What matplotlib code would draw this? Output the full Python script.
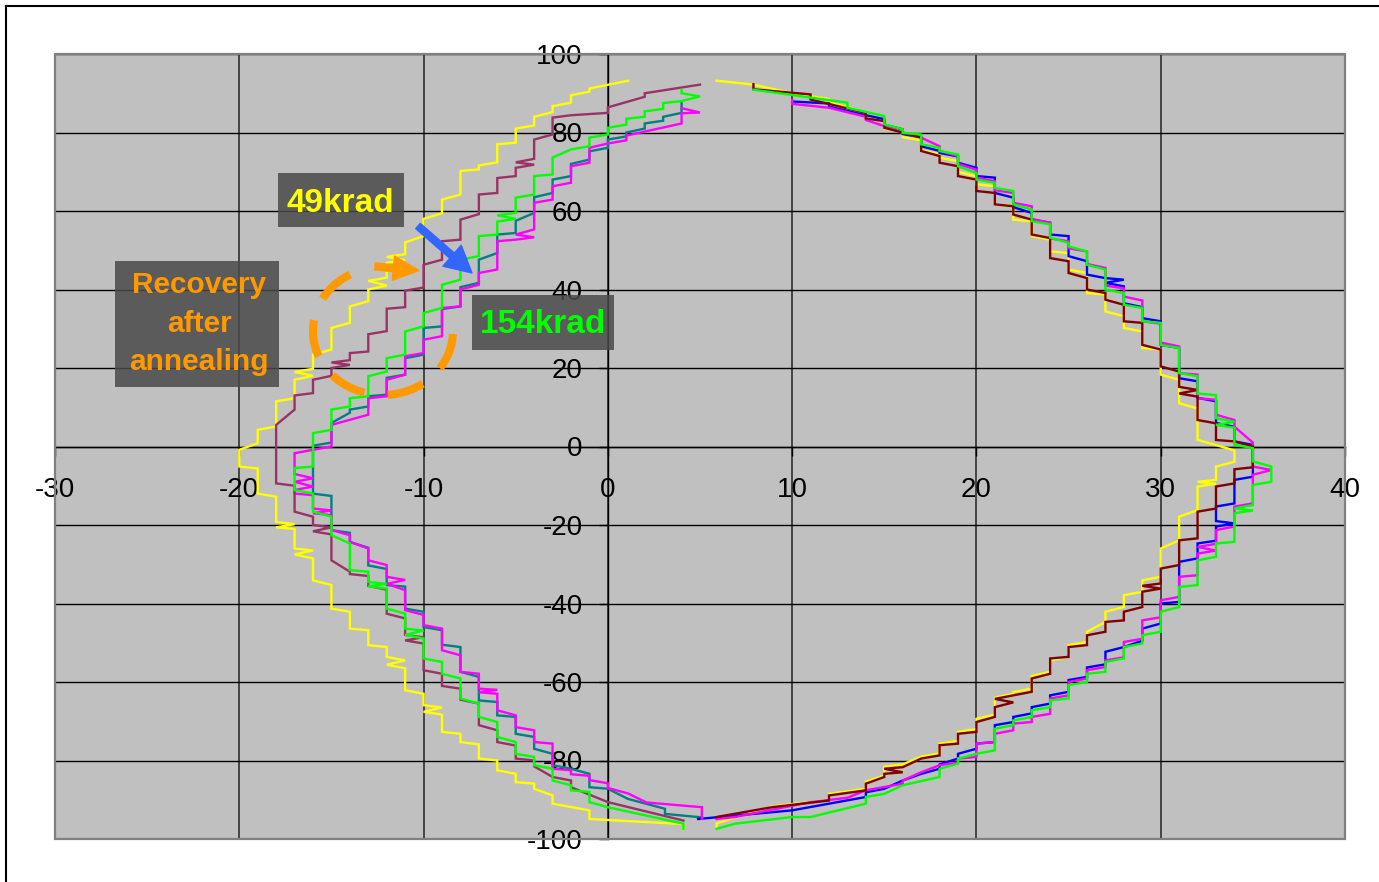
import numpy as np
import matplotlib
matplotlib.use("Agg")
import matplotlib.pyplot as plt
from matplotlib.patches import Rectangle, FancyArrowPatch
from matplotlib.lines import Line2D

plt.rcParams['font.family'] = ['Liberation Sans', 'DejaVu Sans']
plt.rcParams['axes.unicode_minus'] = False

# ---------------- data (vertices) ----------------
X_TICKS = [-30, -20, -10, 0, 10, 20, 30, 40]
Y_TICKS = [-100, -80, -60, -40, -20, 0, 20, 40, 60, 80, 100]

YELLOW_LEFT = [(1.1, 93.2), (-1, 91.2), (-1, 90.4), (-2, 89.5), (-2, 87.6), (-3, 86.7), (-3, 85.2),
               (-4, 84.0), (-4, 81.8), (-5, 81.0), (-5, 77.4), (-6, 77.0), (-6, 72.4), (-7, 71.6),
               (-7, 70.6), (-8, 70.2), (-8, 64.2), (-9, 62.9), (-9, 59.4), (-10, 58.0), (-10, 53.6),
               (-11, 52.0), (-11, 49.0), (-12, 48.3), (-11, 47.5), (-12, 46.8), (-12, 43.0), (-13, 42.2),
               (-12, 41.0), (-13, 40.0), (-13, 37.0), (-14, 35.7), (-14, 31.5), (-15, 30.2), (-15, 24.7),
               (-16, 23.4), (-16, 19.8), (-17, 19.0), (-16, 18.0), (-17, 17.0), (-17, 12.3), (-18, 11.5),
               (-18, 5.1), (-19, 4.25), (-19, 0.85), (-20, -0.85), (-20, -5.1), (-19, -5.6), (-19, -12.0),
               (-18, -12.8), (-18, -19.2), (-17, -19.8), (-18, -20.6), (-17, -21.0), (-17, -26.0),
               (-16, -26.5), (-17, -27.5), (-16, -28.5), (-16, -34.1), (-15, -35.3), (-15, -41.3),
               (-14, -42.1), (-14, -46.4), (-13, -46.8), (-13, -50.6), (-12, -51.1), (-12, -53.6),
               (-11, -54.5), (-12, -55.6), (-11, -56.5), (-11, -62.1), (-10, -63.0), (-10, -65.9),
               (-9, -66.5), (-10, -67.6), (-9, -68.3), (-9, -72.7), (-8, -73.2), (-8, -75.3), (-7, -75.9),
               (-7, -79.5), (-6, -80.0), (-6, -82.5), (-5, -83.4), (-5, -85.5), (-4, -85.9), (-4, -87.2),
               (-3, -88.9), (-3, -91.0), (-1, -92.7), (-1, -94.9), (4.1, -96.2), (4.1, -97.4)]

MAROON_LEFT = [(5.0, 92.2), (2.0, 90.0), (2.0, 89.1), (0, 86.4), (0, 85.0), (-2, 84.4), (-3, 83.8),
               (-3, 79.5), (-4, 78.2), (-4, 73.3), (-5, 72.4), (-4, 71.8), (-5, 71.0), (-5, 68.9),
               (-6, 68.4), (-6, 64.6), (-7, 64.2), (-7, 59.2), (-8, 57.8), (-8, 52.7), (-9, 52.3),
               (-9, 47.6), (-10, 46.3), (-10, 40.5), (-11, 39.7), (-11, 35.5), (-12, 35.1), (-12, 29.4),
               (-13, 28.6), (-13, 24.2), (-14, 23.8), (-14, 22.0), (-15, 21.4), (-14, 20.8), (-15, 20.0),
               (-15, 18.0), (-16, 17.0), (-16, 13.6), (-17, 13.0), (-17, 9.4), (-18, 5.5), (-18, -9.4),
               (-17, -10.0), (-17, -16.6), (-16, -17.9), (-16, -20.0), (-15, -20.6), (-16, -21.6),
               (-15, -22.4), (-15, -29.0), (-14, -31.9), (-14, -32.5), (-13, -33.0), (-13, -35.5),
               (-12, -36.5), (-12, -42.6), (-11, -43.8), (-11, -48.0), (-10, -48.6), (-11, -49.4),
               (-10, -50.2), (-10, -57.0), (-9, -57.9), (-9, -61.0), (-8, -61.7), (-8, -64.5),
               (-7, -65.5), (-7, -71.0), (-6, -72.3), (-6, -75.3), (-5, -76.2), (-5, -79.5), (-4, -80.0),
               (-4, -81.5), (-3, -84.2), (-2, -85.1), (-2, -86.8), (0, -90.6), (4.1, -95.3)]

GREEN_LEFT = [(4.0, 90.9), (4.0, 90.0), (5.0, 89.2), (4.0, 88.0), (3.0, 87.5), (3.0, 86.0), (2.0, 85.4),
              (2.0, 84.0), (1.0, 83.5), (1.0, 82.0), (0, 81.2), (0, 79.5), (-1, 78.7), (-1, 76.5),
              (-2, 75.7), (-3, 73.6), (-3, 69.3), (-4, 68.9), (-4, 64.2), (-5, 63.4), (-5, 59.5),
              (-6, 58.9), (-5, 58.0), (-6, 57.3), (-6, 54.0), (-7, 53.6), (-7, 48.5), (-8, 47.6),
              (-8, 42.5), (-9, 41.2), (-9, 35.3), (-10, 34.0), (-10, 30.6), (-11, 29.3), (-11, 23.4),
              (-12, 22.5), (-12, 19.1), (-13, 17.9), (-13, 12.8), (-14, 12.3), (-14, 10.2), (-15, 9.4),
              (-15, 4.25), (-16, 3.4), (-16, -5.1), (-17, -5.5), (-17, -11.1), (-16, -12.0), (-16, -16.6),
              (-15, -17.9), (-15, -22.6), (-14, -24.7), (-14, -31.5), (-13, -31.9), (-13, -34.5),
              (-12, -35.0), (-13, -35.6), (-12, -36.2), (-12, -41.3), (-11, -42.6), (-11, -46.4),
              (-10, -46.9), (-11, -48.0), (-10, -48.9), (-10, -54.0), (-9, -54.9), (-9, -57.9),
              (-8, -59.1), (-8, -64.2), (-7, -65.5), (-7, -68.9), (-6, -70.2), (-6, -74.0), (-5, -75.3),
              (-5, -78.3), (-4, -79.1), (-4, -81.2), (-3, -82.1), (-3, -85.1), (-2, -86.3), (-2, -87.6),
              (-1, -88.0), (-1, -90.6), (0, -91.9), (4.1, -96.1), (4.1, -97.4)]

TEAL_LEFT = [(4.0, 87.6), (4.0, 85.0), (3.0, 84.0), (3.0, 83.0), (2.0, 82.3), (2.0, 81.0), (1.0, 80.0),
             (1.0, 79.0), (0, 78.2), (0, 76.1), (-1, 75.2), (-1, 73.1), (-2, 72.0), (-2, 68.9), (-3, 68.0),
             (-3, 64.6), (-4, 63.5), (-4, 59.5), (-5, 57.5), (-5, 54.4), (-6, 54.0), (-6, 49.3), (-7, 47.6),
             (-7, 41.7), (-8, 40.6), (-8, 35.7), (-9, 35.0), (-9, 30.6), (-10, 30.2), (-10, 23.4),
             (-11, 22.5), (-11, 18.3), (-12, 17.5), (-12, 13.2), (-13, 12.8), (-13, 10.2), (-14, 9.4),
             (-14, 8.6), (-15, 6.0), (-15, 1.0), (-16, 0.2), (-16, -12.0), (-15, -12.6), (-15, -21.3),
             (-14, -22.0), (-14, -24.3), (-13, -25.8), (-13, -30.3), (-12, -31.2), (-12, -35.3),
             (-11, -35.7), (-11, -41.3), (-10, -42.1), (-10, -46.0), (-9, -46.8), (-9, -50.5),
             (-8, -51.1), (-8, -57.4), (-7, -58.7), (-7, -64.7), (-6, -65.1), (-6, -68.5), (-5, -68.9),
             (-5, -73.2), (-4, -74.0), (-4, -77.0), (-3, -78.3), (-3, -81.2), (-2, -82.1), (-1, -83.4),
             (-1, -86.8), (0, -87.2), (1.1, -89.8), (3.1, -92.3), (3.1, -93.6), (5.1, -94.5)]

MAGENTA_LEFT = [(4.0, 86.2), (5.0, 85.1), (4.0, 84.9), (4.0, 82.3), (1.0, 79.2), (1.0, 78.0), (0, 77.2),
                (-1, 76.1), (-1, 72.3), (-2, 71.4), (-2, 67.2), (-3, 66.3), (-3, 62.9), (-4, 62.1),
                (-4, 55.3), (-5, 54.0), (-4, 53.3), (-5, 52.7), (-6, 52.3), (-6, 45.1), (-7, 44.2),
                (-7, 41.2), (-8, 40.0), (-8, 35.7), (-9, 35.3), (-9, 28.1), (-10, 27.2), (-10, 23.8),
                (-11, 23.0), (-11, 18.3), (-12, 17.0), (-12, 12.8), (-13, 12.3), (-13, 8.1), (-14, 6.8),
                (-15, 5.5), (-15, 0.0), (-17, -1.7), (-17, -7.0), (-16, -8.1), (-17, -9.0), (-16, -10.2),
                (-17, -11.1), (-17, -12.0), (-16, -12.4), (-16, -15.8), (-15, -16.3), (-16, -17.0),
                (-15, -17.5), (-15, -21.3), (-14, -22.6), (-14, -24.3), (-13, -26.0), (-13, -29.0),
                (-12, -30.2), (-12, -33.2), (-11, -34.0), (-12, -35.0), (-11, -36.6), (-11, -41.7),
                (-10, -42.9), (-10, -45.5), (-9, -46.4), (-9, -51.9), (-8, -53.2), (-8, -57.4),
                (-7, -57.9), (-7, -61.7), (-6, -62.0), (-7, -62.6), (-6, -63.0), (-6, -67.2), (-5, -68.5),
                (-5, -71.5), (-4, -72.3), (-4, -75.3), (-3, -75.7), (-3, -82.1), (-2, -82.5), (-2, -83.5),
                (-1, -83.9), (-1, -85.0), (0, -85.8), (0, -87.0), (1.1, -88.4), (2.1, -90.7), (5.1, -91.9),
                (5.1, -94.9)]

YELLOW_RIGHT = [(5.9, 93.2), (7.9, 92.2), (10, 90.0), (12, 88.5), (12, 87.6), (13, 86.5), (14, 85.0),
                (14, 84.2), (15, 82.9), (15, 81.0), (16, 80.0), (16, 78.8), (17, 78.0), (17, 75.5),
                (18, 74.5), (18, 73.6), (19, 72.7), (19, 70.0), (20, 68.8), (20, 66.8), (21, 66.3),
                (21, 61.7), (22, 61.2), (22, 57.8), (23, 57.4), (23, 53.6), (24, 52.7), (24, 49.7),
                (25, 49.3), (25, 45.1), (26, 44.2), (26, 39.1), (27, 38.7), (27, 34.4), (28, 33.2),
                (28, 30.2), (29, 29.3), (29, 25.1), (30, 24.7), (30, 18.3), (31, 17.0), (31, 11.0),
                (32, 9.7), (32, 1.7), (34, -1.0), (34, -3.9), (33, -5.1), (33, -8.5), (32, -9.0),
                (33, -9.5), (32, -10.2), (32, -16.2), (31, -17.9), (31, -23.9), (30, -26.0), (30, -33.2),
                (29, -34.1), (29, -37.0), (28, -37.9), (28, -40.9), (27, -42.1), (27, -44.7), (26, -47.2),
                (26, -49.8), (25, -50.6), (25, -53.6), (24, -54.5), (24, -57.4), (23, -58.5), (23, -61.7),
                (22, -62.6), (22, -63.0), (21, -64.0), (21, -68.3), (20, -69.4), (20, -72.0), (19, -72.7),
                (19, -75.0), (18, -75.7), (18, -78.2), (17, -79.0), (16, -81.0), (15, -81.6), (15, -83.8),
                (14, -85.4), (14, -87.2), (12, -88.5), (12, -90.0), (8.9, -91.7), (5.9, -96.0), (5.9, -97.2)]

DARKRED_RIGHT = [(7.9, 92.3), (7.9, 91.0), (11, 89.7), (11, 88.4), (14, 85.0), (14, 83.6), (15, 82.9),
                 (15, 81.2), (17, 78.7), (17, 75.3), (18, 74.0), (18, 72.3), (19, 71.4), (19, 68.9),
                 (20, 68.0), (20, 65.1), (21, 64.6), (21, 61.7), (22, 61.2), (22, 59.1), (23, 57.8),
                 (23, 54.0), (24, 53.1), (24, 48.0), (25, 47.2), (25, 44.2), (26, 42.9), (26, 40.0),
                 (27, 39.1), (27, 37.4), (28, 36.1), (28, 31.9), (29, 31.5), (29, 25.9), (30, 24.7),
                 (30, 20.4), (31, 19.1), (31, 15.2), (32, 14.4), (31, 13.5), (32, 12.7), (32, 6.75),
                 (33, 5.9), (33, 1.66), (34, 1.3), (35, 0.0), (35, -5.3), (34, -5.8), (34, -9.4),
                 (33, -10.2), (33, -15.8), (32, -16.6), (32, -23.4), (31, -23.9), (31, -30.2), (30, -31.1),
                 (30, -34.9), (29, -35.5), (30, -36.2), (29, -37.0), (29, -40.9), (28, -42.1), (28, -44.3),
                 (27, -44.7), (27, -47.2), (26, -48.1), (26, -50.6), (25, -51.1), (25, -53.6), (24, -54.0),
                 (24, -57.9), (23, -59.1), (23, -62.5), (22, -63.4), (21, -64.3), (22, -65.2), (21, -66.4),
                 (21, -68.9), (20, -70.2), (20, -72.7), (19, -73.2), (19, -75.7), (18, -76.1), (18, -78.7),
                 (17, -79.5), (16, -81.7), (15, -82.1), (16, -83.0), (15, -83.4), (15, -84.2), (14, -85.9),
                 (14, -87.6), (12, -88.9), (12, -90.2), (8.9, -91.9), (5.9, -94.4)]

BLUE_RIGHT = [(10, 87.9), (12, 87.4), (12, 86.6), (14, 84.4), (15, 83.4), (15, 82.0), (16, 80.8),
              (16, 79.6), (17, 78.8), (17, 76.5), (18, 75.3), (18, 74.8), (19, 73.9), (19, 72.3),
              (20, 71.0), (20, 68.9), (21, 68.5), (21, 64.6), (22, 63.4), (22, 61.0), (23, 59.5),
              (23, 57.8), (24, 57.0), (24, 54.0), (25, 53.6), (25, 48.5), (26, 47.2), (26, 43.8),
              (27, 42.9), (28, 42.5), (27, 41.7), (28, 40.8), (28, 36.5), (29, 35.5), (29, 32.7),
              (30, 31.9), (30, 25.9), (31, 25.1), (31, 17.4), (32, 16.6), (32, 12.4), (33, 11.5),
              (33, 6.0), (34, 5.0), (34, 1.3), (35, 0.4), (35, -7.7), (34, -8.5), (34, -14.5),
              (33, -15.3), (33, -19.0), (34, -19.6), (33, -20.4), (33, -24.0), (32, -24.7), (32, -28.5),
              (31, -29.4), (31, -39.6), (30, -40.0), (30, -45.1), (29, -46.4), (29, -49.5), (28, -51.1),
              (27, -52.3), (27, -55.5), (26, -56.3), (26, -58.7), (25, -59.5), (25, -62.5), (24, -63.4),
              (24, -65.5), (23, -66.4), (23, -68.0), (22, -68.9), (22, -70.2), (21, -71.0), (21, -75.3),
              (20, -75.7), (20, -77.0), (19, -78.3), (19, -79.5), (18, -81.0), (18, -82.1), (17, -83.4),
              (16, -85.1), (15, -87.2), (14, -88.1), (14, -89.3), (10, -92.7), (4.9, -94.9)]

MAGENTA_RIGHT = [(10, 88.3), (10, 87.3), (12, 86.3), (14, 84.0), (14, 83.2), (15, 81.6), (16, 80.0),
                 (17, 78.7), (18, 76.5), (18, 75.3), (19, 74.0), (19, 72.0), (20, 70.5), (20, 68.5),
                 (21, 67.6), (21, 65.3), (22, 64.6), (22, 62.1), (23, 61.2), (23, 58.0), (24, 57.0),
                 (24, 53.0), (25, 52.3), (25, 50.5), (26, 49.7), (26, 46.5), (27, 45.5), (27, 41.0),
                 (28, 40.3), (28, 38.2), (29, 37.2), (29, 31.9), (30, 31.3), (30, 26.5), (31, 25.5),
                 (31, 18.7), (32, 18.3), (32, 12.3), (33, 11.9), (33, 8.1), (34, 6.75), (34, 5.05),
                 (35, 1.0), (35, -5.1), (36, -6.0), (35, -7.2), (35, -14.5), (34, -15.3), (34, -20.4),
                 (33, -21.3), (33, -24.8), (32, -25.6), (33, -26.5), (32, -27.3), (32, -32.8), (31, -33.2),
                 (31, -38.3), (30, -39.2), (30, -43.5), (29, -44.3), (29, -49.0), (28, -49.8), (28, -53.7),
                 (27, -54.5), (27, -56.2), (26, -57.0), (26, -59.1), (25, -60.0), (25, -63.4), (24, -64.2),
                 (24, -68.1), (23, -68.9), (23, -70.2), (22, -70.6), (22, -72.3), (21, -73.2), (21, -75.3),
                 (20, -75.7), (20, -79.1), (19, -79.5), (19, -80.5), (18, -81.2), (17, -83.0), (16, -85.1),
                 (16, -85.9), (14, -87.6), (13, -89.5), (11, -90.6), (6.9, -94.4), (5.9, -94.9)]

GREEN_RIGHT = [(7.9, 90.9), (13, 87.6), (13, 86.3), (15, 84.2), (15, 82.1), (16, 80.8), (16, 79.9),
               (17, 79.5), (17, 77.0), (18, 76.1), (18, 75.3), (19, 74.4), (19, 71.4), (20, 69.7),
               (20, 68.0), (21, 67.2), (21, 65.9), (22, 65.1), (22, 61.7), (23, 60.4), (23, 57.4),
               (24, 56.6), (24, 53.2), (25, 51.9), (25, 51.0), (26, 49.7), (26, 46.3), (27, 45.1),
               (27, 40.0), (28, 39.1), (28, 36.1), (29, 35.3), (29, 31.9), (30, 31.5), (30, 25.9),
               (31, 25.1), (31, 18.7), (32, 17.9), (32, 13.5), (33, 13.1), (33, 7.2), (34, 6.3),
               (33, 5.5), (34, 4.8), (34, 0.4), (35, -0.4), (35, -3.8), (36, -5.1), (36, -9.0),
               (35, -9.8), (35, -14.9), (34, -15.8), (35, -16.3), (34, -17.0), (34, -24.3), (33, -24.7),
               (33, -28.1), (32, -29.0), (32, -35.3), (31, -35.8), (31, -40.9), (30, -42.1), (30, -47.2),
               (29, -48.1), (29, -50.2), (28, -51.1), (28, -54.0), (27, -54.9), (27, -57.4), (26, -57.9),
               (26, -60.0), (25, -60.8), (25, -64.2), (24, -64.7), (24, -66.4), (23, -67.2), (23, -68.9),
               (22, -69.8), (22, -71.0), (21, -71.9), (21, -77.4), (20, -78.3), (19, -79.5), (19, -80.8),
               (18, -82.1), (18, -84.2), (16, -86.3), (15, -88.5), (14, -89.3), (14, -91.0), (11, -94.4),
               (10, -94.4), (6.9, -96.1), (5.9, -97.4)]

# (series, colour, drawing order)
SERIES = [
    (YELLOW_LEFT, '#FFFF00', 2.00), (YELLOW_RIGHT, '#FFFF00', 2.00),
    (TEAL_LEFT, '#008080', 2.05), (BLUE_RIGHT, '#0000FF', 2.05),
    (MAGENTA_LEFT, '#FF00FF', 2.10), (MAGENTA_RIGHT, '#FF00FF', 2.10),
    (MAROON_LEFT, '#993366', 2.15), (DARKRED_RIGHT, '#800000', 2.15),
    (GREEN_LEFT, '#00FF00', 2.20), (GREEN_RIGHT, '#00FF00', 2.20),
]

# ---------------- figure ----------------
W, H = 1379, 882
fig = plt.figure(figsize=(W / 100, H / 100), dpi=100)
fig.patch.set_facecolor('white')

PL, PT, PR, PB = 55, 54, 1345, 839
ax = fig.add_axes([PL / W, 1 - PB / H, (PR - PL) / W, (PB - PT) / H])
ax.set_facecolor('#C0C0C0')
ax.set_xlim(-30, 40)
ax.set_ylim(-100, 100)
ax.set_axisbelow(True)

for pts, col, z in SERIES:
    xs = [p[0] for p in pts]
    ys = [p[1] for p in pts]
    ax.plot(xs, ys, color=col, lw=1.7, zorder=z, solid_joinstyle='miter')

ax.set_xticks(X_TICKS)
ax.set_xticklabels([str(v) for v in X_TICKS])
ax.set_yticks(Y_TICKS)
ax.set_yticklabels([str(v) for v in Y_TICKS])

ax.xaxis.grid(True, color='#3a3a3a', lw=1.3)
ax.yaxis.grid(True, color='#000000', lw=1.0)

for s in ['top', 'right']:
    ax.spines[s].set_visible(False)
ax.spines['left'].set_position(('data', 0))
ax.spines['bottom'].set_position(('data', 0))
for s in ['left', 'bottom']:
    ax.spines[s].set_color('black')
    ax.spines[s].set_linewidth(1.0)
    ax.spines[s].set_zorder(1.5)

ax.tick_params(axis='y', direction='out', length=6.5, width=1, pad=11.5, labelsize=20, colors='black')
ax.tick_params(axis='x', direction='out', length=6.5, width=1, pad=15.5, labelsize=20, colors='black')

ax.add_patch(Rectangle((0, 0), 1, 1, transform=ax.transAxes, fill=False,
                       edgecolor='#808080', lw=1.6, clip_on=False, zorder=3))

# outer frame (only left and top edges visible in the reference)
fig.add_artist(Line2D([6 / W, 6 / W], [0, 1 - 6 / H], color='black', lw=1.5, transform=fig.transFigure))
fig.add_artist(Line2D([6 / W, 1], [1 - 6 / H, 1 - 6 / H], color='black', lw=1.5, transform=fig.transFigure))


def fx(px):
    return px / W


def fy(py):
    return 1 - py / H


def box(x0, y0, x1, y1):
    fig.add_artist(Rectangle((fx(x0), fy(y1)), (x1 - x0) / W, (y1 - y0) / H, transform=fig.transFigure,
                             facecolor='#4a4a4a', alpha=0.85, edgecolor='none', zorder=5))


box(115, 261, 279, 387)
box(278, 173, 404, 227)
box(472, 295, 614, 350)

fig.text(fx(199), fy(293), 'Recovery', color='#FF9900', fontsize=21.5, fontweight='bold',
         ha='center', va='baseline', zorder=6)
fig.text(fx(199), fy(332), 'after', color='#FF9900', fontsize=21.5, fontweight='bold',
         ha='center', va='baseline', zorder=6)
fig.text(fx(199), fy(370), 'annealing', color='#FF9900', fontsize=21.5, fontweight='bold',
         ha='center', va='baseline', zorder=6)
fig.text(fx(340), fy(211.5), '49krad', color='#FFFF00', fontsize=24, fontweight='bold',
         ha='center', va='baseline', zorder=6)
fig.text(fx(542.5), fy(333), '154krad', color='#00FF00', fontsize=24, fontweight='bold',
         ha='center', va='baseline', zorder=6)

# arrows
fig.add_artist(FancyArrowPatch((fx(418), fy(226)), (fx(472), fy(273)), transform=fig.transFigure,
                               arrowstyle='simple,head_length=1.9,head_width=2.0,tail_width=0.5',
                               mutation_scale=10, color='#3366FF', shrinkA=0, shrinkB=0, zorder=6))
fig.add_artist(FancyArrowPatch((fx(375), fy(266.5)), (fx(419), fy(270.5)), transform=fig.transFigure,
                               arrowstyle='simple,head_length=1.85,head_width=1.75,tail_width=0.5',
                               mutation_scale=10, color='#FF9900', shrinkA=0, shrinkB=0, zorder=6))

# dashed orange ellipse (open at upper right)
t = np.deg2rad(np.linspace(118, 367, 300))
ecx, ecy, ea, eb = 383, 331, 70, 64
ex = [fx(ecx + ea * np.cos(a)) for a in t]
ey = [fy(ecy - eb * np.sin(a)) for a in t]
fig.add_artist(Line2D(ex, ey, color='#FF9900', lw=5.8, linestyle=(0, (4.6, 2.9)),
                      dash_capstyle='butt', transform=fig.transFigure, zorder=6))

fig.savefig('out.png', dpi=100, facecolor='white')
